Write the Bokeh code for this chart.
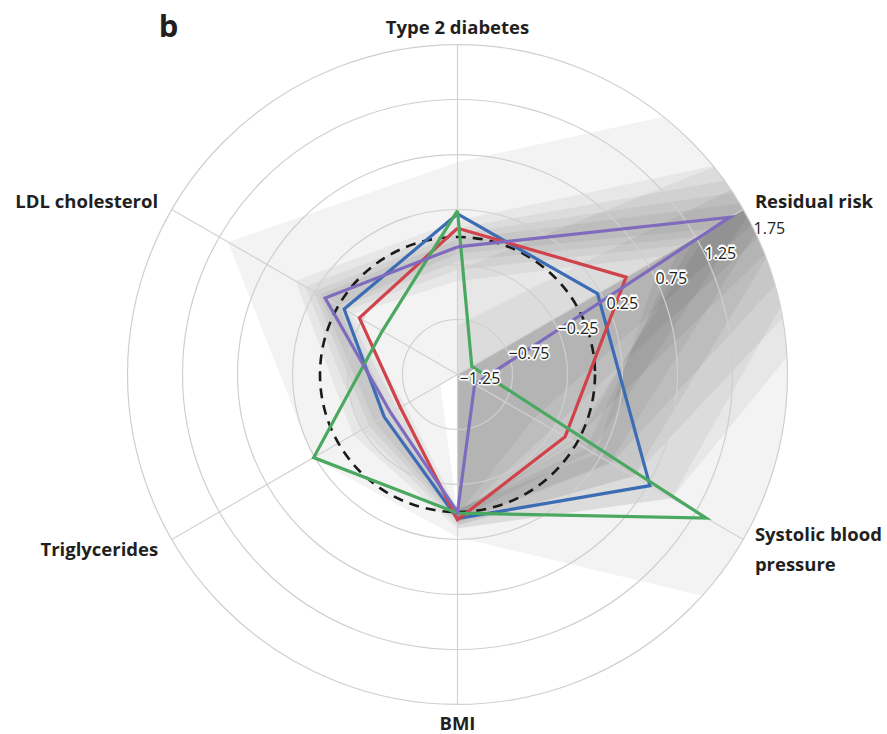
import numpy as np
from bokeh.plotting import figure
from bokeh.models import Range1d, ColumnDataSource
from bokeh.core.properties import value
from bokeh.embed import file_html
from bokeh.resources import INLINE

# ---------------- data ----------------
axis_labels = ["Type 2 diabetes", "Residual risk", "Systolic blood\npressure", "BMI", "Triglycerides", "LDL cholesterol"]
axis_angles_deg = [90, 30, -30, -90, 210, 150]
tick_values = [-1.25, -0.75, -0.25, 0.25, 0.75, 1.25, 1.75]
tick_labels = ["\u22121.25", "\u22120.75", "\u22120.25", "0.25", "0.75", "1.25", "1.75"]
reference_value = 0.0

green = [0.24, -1.10, 1.36, 0.01, 0.26, -0.46]
blue = [0.21, 0.22, 0.77, 0.06, -0.48, -0.06]
red = [0.08, 0.52, -0.12, 0.07, -0.65, -0.22]
purple = [-0.09, 1.61, -1.07, 0.00, -0.55, 0.14]

# population spread: upper / lower bound of each shaded band, per axis
# (T2D, residual risk, SBP, BMI, triglycerides, LDL); -1.25 = centre
band_hi = [
    [0.68, 5.0, 3.8, 0.23, 0.27, 1.16],
    [0.15, 3.2, 1.0, 0.15, -0.15, 0.45],
    [0.08, 2.6, 0.6, 0.12, -0.25, 0.35],
    [0.03, 2.2, 0.35, 0.09, -0.32, 0.26],
    [-0.02, 1.9, 0.15, 0.07, -0.38, 0.20],
    [-0.30, 5.0, 1.0, 0.15, -1.25, -1.25],
    [-0.80, 5.0, 0.60, 0.12, -1.25, -1.25],
    [-1.25, 4.0, 0.37, 0.10, -1.25, -1.25],
    [-1.25, 3.5, -0.04, 0.07, -1.25, -1.25],
    [-1.25, 3.0, -0.26, 0.05, -1.25, -1.25],
    [-1.25, 2.5, -0.45, 0.03, -1.25, -1.25],
]
band_lo = [
    [-1.25, -1.25, -1.25, 0.03, -1.07, -1.25],
    [-0.40, 0.90, 0.20, -0.03, -0.70, -0.15],
    [-0.30, 1.10, 0.10, -0.02, -0.62, -0.08],
    [-0.22, 1.25, 0.00, -0.01, -0.56, -0.03],
    [-0.15, 1.40, -0.05, 0.00, -0.50, 0.00],
    None, None, None, None, None, None,
]

# ---------------- geometry helpers ----------------
vmin = tick_values[0]
vmax = tick_values[-1]
ang = np.deg2rad(np.array(axis_angles_deg, dtype=float))


def radius(v):
    return np.maximum(np.asarray(v, dtype=float) - vmin, 0.0)


def polar_xy(vals):
    r = radius(vals)
    return list(r * np.cos(ang)), list(r * np.sin(ang))


R = vmax - vmin  # outer radius in data units
PX = 110.0  # pixels per data unit
W, H = 887, 734
cx, cy = 457.0, 374.0

p = figure(width=W, height=H, x_range=Range1d(-cx / PX, (W - cx) / PX),
           y_range=Range1d(-(H - cy) / PX, cy / PX),
           output_backend="svg", toolbar_location=None,
           x_axis_type=None, y_axis_type=None, min_border=0)
p.grid.visible = False
p.outline_line_color = None
p.background_fill_color = "white"

# shading bands (ribbons with holes, or filled wedges)
xs, ys = [], []
for hi, lo in zip(band_hi, band_lo):
    hx, hy = polar_xy(hi)
    if lo is None:
        xs.append([[hx]])
        ys.append([[hy]])
    else:
        lx, ly = polar_xy(lo)
        xs.append([[hx, lx]])
        ys.append([[hy, ly]])
p.multi_polygons(xs=xs, ys=ys, fill_color="black", fill_alpha=0.048, line_color=None)

# clip everything outside the outer circle
p.annulus(x=0, y=0, inner_radius=R, outer_radius=R * 4, fill_color="white", line_color=None)

# grid circles and spokes
grid_r = [float(radius(t)) for t in tick_values[1:]]
p.circle(x=[0] * len(grid_r), y=[0] * len(grid_r), radius=grid_r,
         fill_color=None, line_color="#cfcfcf", line_width=1.2)
p.segment(x0=[0] * 6, y0=[0] * 6, x1=list(R * np.cos(ang)), y1=list(R * np.sin(ang)),
          line_color="#d2d2d2", line_width=1.2)

# reference circle
p.circle(x=[0], y=[0], radius=[float(radius(reference_value))], fill_color=None,
         line_color="#1a1a1a", line_width=2.6, line_dash="10 7")

# data polygons
for vals, col in [(blue, "#3c6db4"), (red, "#d0434b"), (green, "#4ba860"), (purple, "#7f6bbd")]:
    x, y = polar_xy(vals)
    p.line(x + x[:1], y + y[:1], line_color=col, line_width=3.2, line_join="miter")

# tick labels along residual risk axis
lab_ang = np.deg2rad(27)
tr = radius(tick_values)
src_in = ColumnDataSource(dict(x=list(tr[:-1] * np.cos(lab_ang)), y=list(tr[:-1] * np.sin(lab_ang)),
                               t=tick_labels[:-1]))
for dx, dy in [(-1.2, 0), (1.2, 0), (0, -1.2), (0, 1.2)]:
    p.text(x="x", y="y", text="t", source=src_in, text_font=value("Open Sans"), text_font_size="16px",
           text_color="white", text_align="left", text_baseline="middle", x_offset=2 + dx, y_offset=3 + dy,
           text_outline_color="white")
p.text(x="x", y="y", text="t", source=src_in, text_font=value("Open Sans"), text_font_size="16px",
       text_color="#231f20", text_align="left", text_baseline="middle", x_offset=2, y_offset=3)
p.text(x=[float(tr[-1] * np.cos(lab_ang))], y=[float(tr[-1] * np.sin(lab_ang))], text=[tick_labels[-1]],
       text_font=value("Open Sans"), text_font_size="16px", text_color="#231f20",
       text_align="left", text_baseline="middle", x_offset=2, y_offset=3)

# axis labels
lr = 348 / PX
aligns, xoff = [], []
for a in axis_angles_deg:
    c = np.cos(np.deg2rad(a))
    if abs(c) < 0.1:
        aligns.append("center"); xoff.append(0)
    elif c > 0:
        aligns.append("left"); xoff.append(-4)
    else:
        aligns.append("right"); xoff.append(2)
lab_src = ColumnDataSource(dict(x=list(lr * np.cos(ang)), y=list(lr * np.sin(ang)), t=axis_labels,
                                a=aligns, xo=xoff))
p.text(x="x", y="y", text="t", source=lab_src, text_font=value("Open Sans"), text_font_size="18.5px",
       text_font_style="bold", text_color="#231f20", text_align="a", text_baseline="middle",
       text_line_height=1.2, x_offset="xo")

# panel letter
p.text(x=[(168 - cx) / PX], y=[(cy - 24) / PX], text=["b"], text_font=value("Open Sans"),
       text_font_size="31px", text_font_style="bold", text_color="#231f20",
       text_align="center", text_baseline="middle")

open("out.html", "w").write(file_html(p, INLINE))
